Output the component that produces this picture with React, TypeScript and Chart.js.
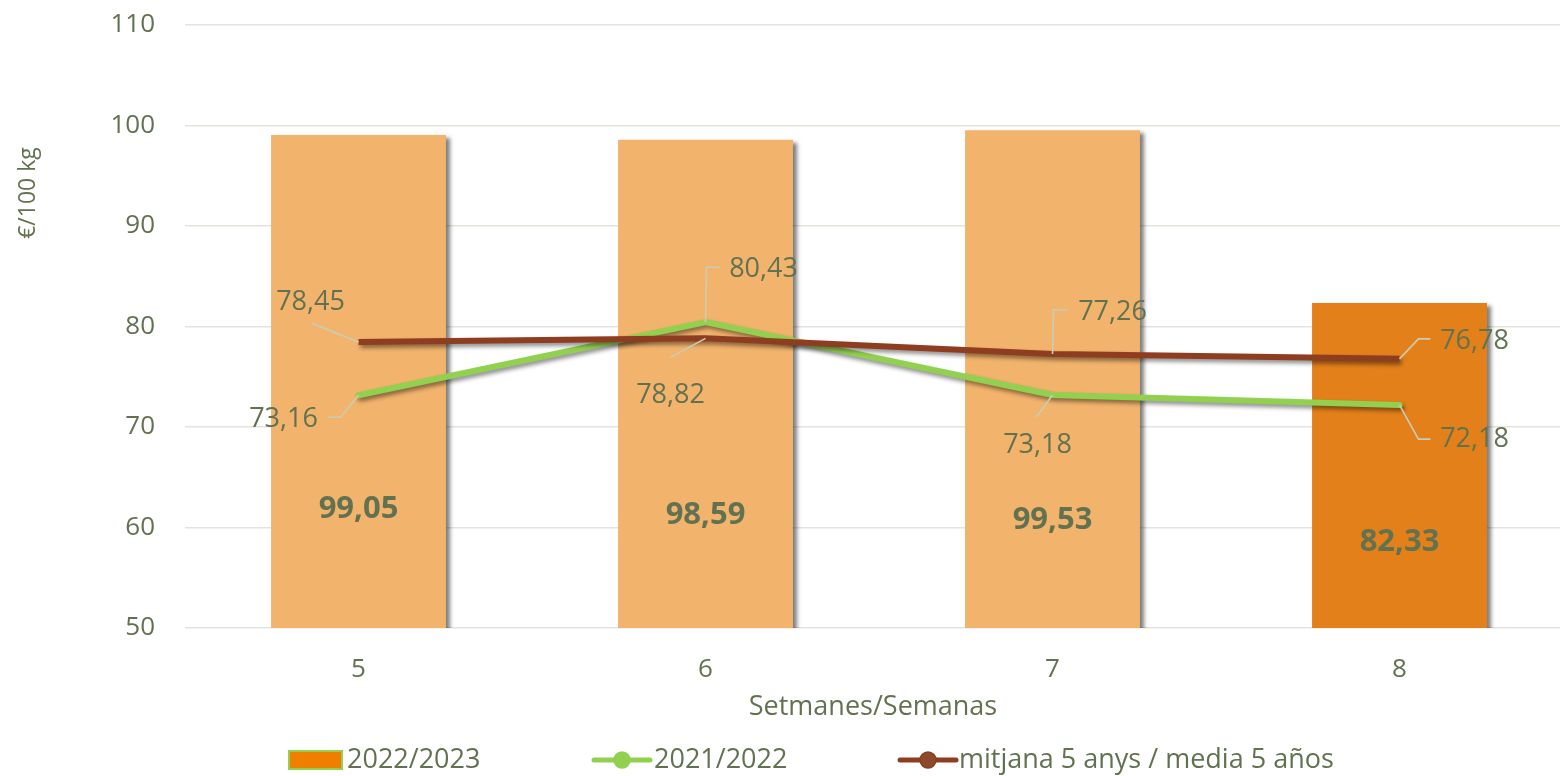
import React, { useEffect, useRef } from "react";
import { Chart, registerables } from "chart.js";

Chart.register(...registerables);

// ---- Data ----
const WEEKS = ["5", "6", "7", "8"];
const SEASON_2022_2023 = [99.05, 98.59, 99.53, 82.33];
const SEASON_2021_2022 = [73.16, 80.43, 73.18, 72.18];
const AVG_5_YEARS = [78.45, 78.82, 77.26, 76.78];
const Y_MIN = 50;
const Y_MAX = 110;
const Y_STEP = 10;
const LEGEND_LABELS = ["2022/2023", "2021/2022", "mitjana 5 anys / media 5 años"];
const X_TITLE = "Setmanes/Semanas";
const Y_TITLE = "€/100 kg";

// ---- Styles ----
const TEXT = "#627251";
const BAR_LIGHT = "#F2B36C";
const BAR_DARK = "#E3801A";
const GREEN = "#92D050";
const BROWN = "#8E3D20";
const LEADER = "#C9CDB6";
const FONT = "'Open Sans', 'DejaVu Sans', sans-serif";
const NARROW = "'Liberation Sans Narrow', 'Open Sans', sans-serif";

const fmt = (v: number) => v.toFixed(2).replace(".", ",");

// label placement (pixel offsets from the point) and leader polylines
const LABEL_LAYOUT: Record<string, { label: [number, number]; leader: [number, number][] }[]> = {
  avg: [
    { label: [-48, -40], leader: [[0, 0], [-47, -19]] },
    { label: [-35, 57], leader: [[0, 0], [-35, 19]] },
    { label: [60, -42], leader: [[0, 0], [1, -44], [15, -44]] },
    { label: [75, -18], leader: [[0, 0], [19, -20], [31, -20]] },
  ],
  green: [
    { label: [-75, 24], leader: [[0, 0], [-18, 22], [-30, 22]] },
    { label: [58, -53], leader: [[0, 0], [1, -55], [14, -55]] },
    { label: [-15, 50], leader: [[0, 0], [-16, 22]] },
    { label: [75, 34], leader: [[0, 0], [19, 34], [31, 34]] },
  ],
};
// vertical level (in axis units) of bold bar value labels
const BAR_LABEL_LEVEL = [61.85, 61.25, 60.75, 58.5];

const shadowPlugin = {
  id: "shadows",
  beforeDatasetDraw(chart: any, args: any) {
    const ctx = chart.ctx;
    ctx.save();
    const type = chart.data.datasets[args.index].type;
    if (type === "bar") {
      ctx.shadowColor = "rgba(0,0,0,0.5)";
      ctx.shadowBlur = 4;
      ctx.shadowOffsetX = 4;
      ctx.shadowOffsetY = 3;
    } else {
      ctx.shadowColor = "rgba(0,0,0,0.45)";
      ctx.shadowBlur = 4;
      ctx.shadowOffsetX = 2;
      ctx.shadowOffsetY = 3;
    }
  },
  afterDatasetDraw(chart: any) {
    chart.ctx.restore();
  },
};

const labelsPlugin = {
  id: "customLabels",
  afterDatasetsDraw(chart: any) {
    const ctx = chart.ctx;
    const y = chart.scales.y;
    ctx.save();
    // bar labels
    const barMeta = chart.getDatasetMeta(0);
    ctx.font = `bold 31px ${FONT}`;
    ctx.fillStyle = TEXT;
    ctx.textAlign = "center";
    ctx.textBaseline = "middle";
    barMeta.data.forEach((el: any, i: number) => {
      ctx.fillText(fmt(SEASON_2022_2023[i]), el.x, y.getPixelForValue(BAR_LABEL_LEVEL[i]));
    });
    // line labels
    const series: [number, string, number[]][] = [
      [2, "avg", AVG_5_YEARS],
      [1, "green", SEASON_2021_2022],
    ];
    ctx.font = `27px ${FONT}`;
    series.forEach(([idx, key, values]) => {
      const meta = chart.getDatasetMeta(idx);
      meta.data.forEach((pt: any, i: number) => {
        const lay = LABEL_LAYOUT[key][i];
        ctx.strokeStyle = LEADER;
        ctx.lineWidth = 1.6;
        ctx.beginPath();
        lay.leader.forEach(([dx, dy], j) => {
          if (j === 0) ctx.moveTo(pt.x + dx, pt.y + dy);
          else ctx.lineTo(pt.x + dx, pt.y + dy);
        });
        ctx.stroke();
        ctx.fillStyle = TEXT;
        ctx.fillText(fmt(values[i]), pt.x + lay.label[0], pt.y + lay.label[1]);
      });
    });
    ctx.restore();
  },
  afterDraw(chart: any) {
    const ctx = chart.ctx;
    ctx.save();
    ctx.fillStyle = TEXT;
    // x title
    ctx.font = `27px ${FONT}`;
    ctx.textAlign = "center";
    ctx.textBaseline = "middle";
    ctx.fillText(X_TITLE, 873, 707);
    // y title
    ctx.save();
    ctx.translate(28, 193);
    ctx.rotate(-Math.PI / 2);
    ctx.font = `23px ${NARROW}`;
    ctx.fillText(Y_TITLE, 0, 0);
    ctx.restore();

    // legend
    const ly = 760;
    ctx.font = `27px ${FONT}`;
    ctx.textAlign = "left";
    ctx.fillStyle = "#F07F00";
    ctx.fillRect(289, 751, 53, 18);
    ctx.strokeStyle = GREEN;
    ctx.lineWidth = 2;
    ctx.strokeRect(289, 751, 53, 18);
    ctx.fillStyle = TEXT;
    ctx.fillText(LEGEND_LABELS[0], 347, ly);
    const drawLineMarker = (x0: number, x1: number, color: string, fill: string) => {
      ctx.strokeStyle = color;
      ctx.lineWidth = 5;
      ctx.lineCap = "round";
      ctx.beginPath();
      ctx.moveTo(x0, ly);
      ctx.lineTo(x1, ly);
      ctx.stroke();
      ctx.beginPath();
      ctx.arc((x0 + x1) / 2, ly, 8, 0, Math.PI * 2);
      ctx.fillStyle = fill;
      ctx.fill();
      ctx.lineWidth = 1.5;
      ctx.stroke();
    };
    drawLineMarker(594, 650, GREEN, GREEN);
    ctx.fillStyle = TEXT;
    ctx.fillText(LEGEND_LABELS[1], 654, ly);
    drawLineMarker(900, 956, BROWN, "#8B4A30");
    ctx.fillStyle = TEXT;
    ctx.fillText(LEGEND_LABELS[2], 959, ly);
    ctx.restore();
  },
};

export default function App() {
  const ref = useRef<HTMLCanvasElement | null>(null);

  useEffect(() => {
    if (!ref.current) return;
    Chart.defaults.font.family = FONT;
    const chart = new Chart(ref.current, {
      type: "bar",
      data: {
        labels: WEEKS,
        datasets: [
          {
            type: "bar",
            label: LEGEND_LABELS[0],
            data: SEASON_2022_2023,
            backgroundColor: [BAR_LIGHT, BAR_LIGHT, BAR_LIGHT, BAR_DARK],
            borderWidth: 0,
            categoryPercentage: 1,
            barPercentage: 0.504,
            order: 3,
          } as any,
          {
            type: "line",
            label: LEGEND_LABELS[1],
            data: SEASON_2021_2022,
            borderColor: GREEN,
            backgroundColor: GREEN,
            borderWidth: 6,
            pointRadius: 0,
            tension: 0,
            borderJoinStyle: "round",
            borderCapStyle: "round",
            order: 2,
          } as any,
          {
            type: "line",
            label: LEGEND_LABELS[2],
            data: AVG_5_YEARS,
            borderColor: BROWN,
            backgroundColor: BROWN,
            borderWidth: 6,
            pointRadius: 0,
            tension: 0,
            borderJoinStyle: "round",
            order: 1,
          } as any,
        ],
      },
      options: {
        responsive: false,
        animation: false,
        devicePixelRatio: 1,
        layout: { padding: { left: 0, top: 25, right: 7, bottom: 0 } },
        plugins: {
          legend: { display: false },
          tooltip: { enabled: false },
          title: { display: false },
        },
        scales: {
          x: {
            grid: { display: false, drawTicks: false },
            border: { display: false },
            ticks: { color: TEXT, font: { size: 26, family: FONT }, padding: 26 },
            afterFit: (s: any) => {
              s.height = 148;
            },
          },
          y: {
            min: Y_MIN,
            max: Y_MAX,
            grid: { color: "#E4E4DC", lineWidth: 1.5, drawTicks: true, tickLength: 30, tickColor: "rgba(0,0,0,0)" },
            border: { display: false },
            ticks: { stepSize: Y_STEP, color: TEXT, font: { size: 26, family: FONT }, padding: 0 },
            afterFit: (s: any) => {
              s.width = 185;
            },
          },
        },
      },
      plugins: [shadowPlugin, labelsPlugin],
    });
    return () => chart.destroy();
  }, []);

  return (
    <div style={{ position: "fixed", left: 0, top: 0, width: 1560, height: 776, overflow: "hidden", background: "#fff" }}>
      <canvas ref={ref} width={1580} height={776} style={{ display: "block", width: 1580, height: 776 }} />
    </div>
  );
}
